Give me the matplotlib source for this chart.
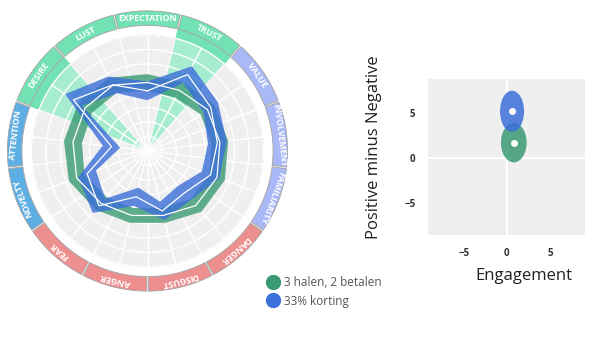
import numpy as np
import matplotlib
matplotlib.use("Agg")
import matplotlib.pyplot as plt
from matplotlib.patches import Ellipse
from matplotlib.lines import Line2D

plt.rcParams['font.family'] = ['Open Sans', 'DejaVu Sans']

# categories, clockwise from top
categories = ["EXPECTATION", "TRUST", "VALUE", "INVOLVEMENT", "FAMILIARITY", "DANGER",
              "DISGUST", "ANGER", "FEAR", "NOVELTY", "ATTENTION", "DESIRE", "LUST"]
groups = ["g", "g", "lb", "lb", "lb", "r", "r", "r", "r", "b", "b", "g", "g"]
highlight = [0, 1, 0, 0, 0, 0, 0, 0, 0, 0, 0, 1, 0]

series_names = ["3 halen, 2 betalen", "33% korting"]
green_low = [4.15, 4.15, 4.45, 4.45, 4.55, 4.45, 4.05, 4.05, 4.25, 4.65, 4.55, 4.65, 4.55]
green_high = [5.3, 5.3, 5.6, 5.6, 5.7, 5.6, 5.1, 5.1, 5.4, 5.8, 5.8, 5.8, 5.7]
blue_low = [3.5, 5.3, 4.7, 4.2, 4.0, 3.2, 3.6, 2.6, 4.4, 3.8, 1.9, 5.5, 4.5]
blue_high = [4.8, 6.6, 5.9, 5.5, 5.3, 4.5, 4.9, 3.9, 5.7, 5.1, 3.1, 6.9, 5.8]

# scatter (engagement vs positive minus negative)
sc_x = [0.8, 0.6]
sc_y = [1.7, 5.2]
sc_w = [3.0, 2.8]
sc_h = [4.4, 4.6]

ring_colors = {"g": "#72e2b5", "lb": "#a9b9f8", "r": "#ee8f8f", "b": "#5caee3"}
series_colors = ["#3a9a74", "#3b6fd9"]

fig = plt.figure(figsize=(6.16, 3.55), dpi=100)

# ---- radar ----
ax = fig.add_axes([6.5 / 616, 63 / 355, 282 / 616, 282 / 355], projection='polar')
ax.set_theta_zero_location('N')
ax.set_theta_direction(-1)
ax.set_ylim(0, 9.72)
ax.axis('off')

n = len(categories)
step = 2 * np.pi / n
theta = np.arange(n) * step
full = np.linspace(0, 2 * np.pi, 361)
grey_r, ring_in, ring_out = 8.0, 8.66, 9.66

ax.bar(0, grey_r, width=2 * np.pi, bottom=0, color='#efefef', zorder=0)
ax.plot(full, np.full_like(full, grey_r), color='#b5b5b5', lw=0.8, ls=(0, (2, 2)), zorder=0.1)

# highlighted wedges
for t, h in zip(theta, highlight):
    if h:
        ax.bar(t, grey_r, width=step, bottom=0, color='#a6ecd0', edgecolor='#9a9a9a',
               linewidth=0.6, zorder=0.2)
        ax.bar(t, ring_in - grey_r + 0.05, width=step, bottom=grey_r, color=ring_colors['g'],
               edgecolor='none', zorder=0.2)

# grid
for r in range(1, 9):
    ax.plot(full, np.full_like(full, r), color='white', lw=1.0, zorder=0.5)
for t in np.arange(2 * n) * step / 2:
    ax.plot([t, t], [0, grey_r], color='white', lw=1.0, zorder=0.5)

# label ring
ax.bar(theta, ring_out - ring_in, width=step - 0.012, bottom=ring_in,
       color=[ring_colors[g] for g in groups], edgecolor='#a8a8a8', linewidth=0.7, zorder=1)
for t, lab in zip(theta, categories):
    ax.text(t, (ring_in + ring_out) / 2, lab, rotation=-np.degrees(t), rotation_mode='anchor',
            ha='center', va='center', color='white', fontsize=6.4, fontweight='bold', zorder=3)

# series bands
for lo, hi, col in [(green_low, green_high, series_colors[0]), (blue_low, blue_high, series_colors[1])]:
    tc = np.append(theta, theta[0])
    lo_c = np.append(lo, lo[0])
    hi_c = np.append(hi, hi[0])
    ax.fill(np.concatenate([tc, tc[::-1]]), np.concatenate([hi_c, lo_c[::-1]]),
            color=col, alpha=0.8, lw=0, zorder=2)
    ax.plot(tc, (hi_c + lo_c) / 2, color='white', lw=0.9, zorder=2.5)

# legend
handles = [Line2D([], [], marker='o', ls='', markersize=10, color=c, label=s)
           for c, s in zip(series_colors, series_names)]
fig.legend(handles=handles, loc='upper left', bbox_to_anchor=(261 / 616, 1 - 271 / 355),
           frameon=False, fontsize=8.5, labelcolor='#555555', handletextpad=0.35,
           borderaxespad=0, labelspacing=0.5, handlelength=1.2)

# ---- scatter ----
ax2 = fig.add_axes([428 / 616, (355 - 235) / 355, 157 / 616, 156 / 355])
ax2.set_facecolor('#efefef')
for s in ax2.spines.values():
    s.set_visible(False)
ax2.set_xlim(-9.2, 9.1)
ax2.set_ylim(-8.6, 8.8)
ax2.axhline(0, color='white', lw=1.5, zorder=0.5)
ax2.axvline(0, color='white', lw=1.5, zorder=0.5)
for i in range(len(sc_x)):
    ax2.add_patch(Ellipse((sc_x[i], sc_y[i]), sc_w[i], sc_h[i], color=series_colors[i], alpha=0.85, lw=0))
    ax2.plot(sc_x[i], sc_y[i], 'o', color='white', markersize=4)
ax2.set_xticks([-5, 0, 5])
ax2.set_yticks([-5, 0, 5])
ax2.tick_params(axis='x', length=0, labelsize=7, labelcolor='#333333', pad=9)
ax2.tick_params(axis='y', length=0, labelsize=7, labelcolor='#333333', pad=9)
for lab in ax2.get_xticklabels() + ax2.get_yticklabels():
    lab.set_fontweight('bold')
ax2.set_xlabel("Engagement", fontsize=12, color='#222222')
ax2.set_ylabel("Positive minus Negative", fontsize=12, color='#222222')
ax2.xaxis.set_label_coords(0.61, -0.21)
ax2.yaxis.set_label_coords(-0.29, 0.56)

fig.savefig("out.png", dpi=100)
